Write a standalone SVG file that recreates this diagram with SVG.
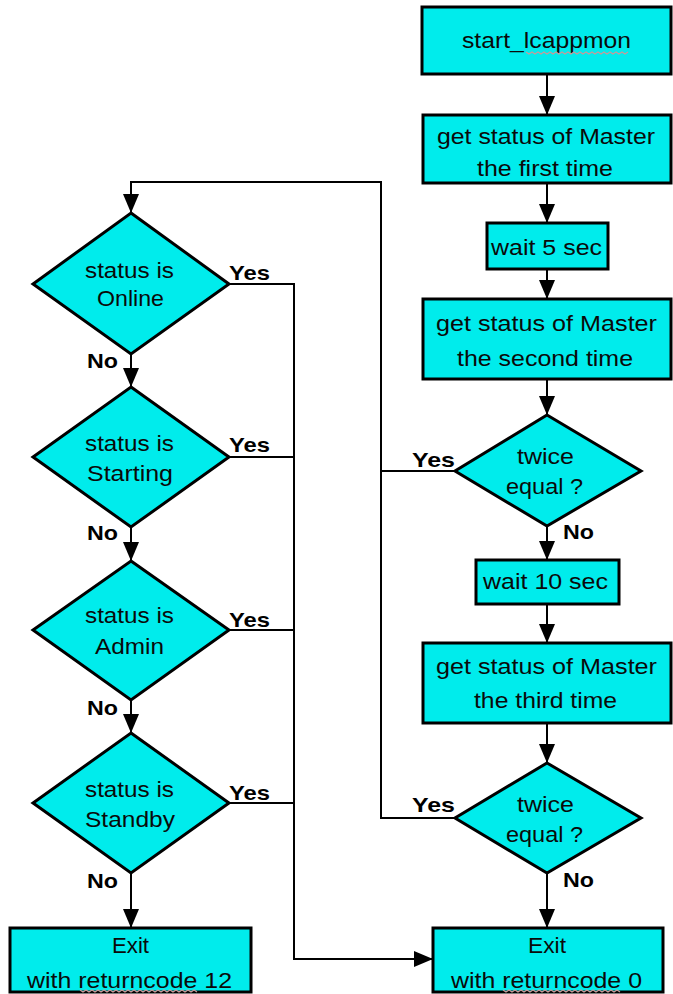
<svg xmlns="http://www.w3.org/2000/svg" width="673" height="994" viewBox="0 0 673 994">
  <style>
    .box { fill: #00ECEC; stroke: #000; stroke-width: 3; }
    .dia { fill: #00ECEC; stroke: #000; stroke-width: 3; stroke-linejoin: miter; }
    .t { font-family: "Liberation Sans", Arial, sans-serif; font-size: 22.5px; fill: #0a0a0a; text-anchor: middle; }
    .lbl { font-family: "Liberation Sans", Arial, sans-serif; font-size: 21px; font-weight: bold; fill: #000; }
    .line { fill: none; stroke: #000; stroke-width: 2; }
    .arr { marker-end: url(#head); }
    .squig { fill: none; stroke: #c89a9a; stroke-width: 1.2; }
  </style>
  <defs>
    <marker id="head" viewBox="0 0 19 16" refX="19" refY="8" markerWidth="19" markerHeight="16" markerUnits="userSpaceOnUse" orient="auto">
      <path d="M0,0 L19,8 L0,16 z" fill="#000"/>
    </marker>
  </defs>

  <rect width="673" height="994" fill="#fff"/>

  <!-- connectors -->
  <g id="connectors">
    <!-- right column -->
    <line class="line arr" x1="547" y1="74" x2="547" y2="115"/>
    <line class="line arr" x1="547" y1="183" x2="547" y2="223"/>
    <line class="line arr" x1="547" y1="269" x2="547" y2="299"/>
    <line class="line arr" x1="547" y1="379" x2="547" y2="415"/>
    <line class="line arr" x1="547" y1="526" x2="547" y2="560"/>
    <line class="line arr" x1="547" y1="604" x2="547" y2="643"/>
    <line class="line arr" x1="547" y1="723" x2="547" y2="763"/>
    <line class="line arr" x1="547" y1="873" x2="547" y2="928"/>
    <!-- loop back to the status checks -->
    <polyline class="line arr" points="455,818 381,818 381,182 131,182 131,213"/>
    <polyline class="line" points="455,471 381,471"/>
    <!-- left column -->
    <line class="line arr" x1="131" y1="354" x2="131" y2="387"/>
    <line class="line arr" x1="131" y1="527" x2="131" y2="561"/>
    <line class="line arr" x1="131" y1="700" x2="131" y2="733"/>
    <line class="line arr" x1="131" y1="873" x2="131" y2="928"/>
    <!-- yes branches to exit 0 -->
    <polyline class="line arr" points="229,284 294,284 294,959 433,959"/>
    <line class="line" x1="229" y1="457" x2="294" y2="457"/>
    <line class="line" x1="229" y1="630" x2="294" y2="630"/>
    <line class="line" x1="229" y1="803" x2="294" y2="803"/>
  </g>

  <!-- right column nodes -->
  <g id="start">
    <rect class="box" x="422" y="7" width="249" height="67"/>
    <text class="t" x="546.5" y="48" textLength="169" lengthAdjust="spacingAndGlyphs">start_lcappmon</text>
    <path class="squig" d="M526,52 l3,2 l3,-2 l3,2 l3,-2 l3,2 l3,-2 l3,2 l3,-2 l3,2 l3,-2 l3,2 l3,-2 l3,2 l3,-2 l3,2 l3,-2 l3,2 l3,-2 l3,2 l3,-2 l3,2 l3,-2 l3,2 l3,-2 l3,2 l3,-2 l3,2 l3,-2 l3,2 l3,-2 l3,2 l3,-2 l3,2 l3,-2"/>
  </g>

  <g id="status1">
    <rect class="box" x="423" y="115" width="248" height="68"/>
    <text class="t" x="546" y="144" textLength="218" lengthAdjust="spacingAndGlyphs">get status of Master</text>
    <text class="t" x="545" y="176" textLength="136" lengthAdjust="spacingAndGlyphs">the first time</text>
  </g>

  <g id="wait5">
    <rect class="box" x="487" y="223" width="121" height="46"/>
    <text class="t" x="546.5" y="255" textLength="111" lengthAdjust="spacingAndGlyphs">wait 5 sec</text>
  </g>

  <g id="status2">
    <rect class="box" x="423" y="299" width="248" height="80"/>
    <text class="t" x="546.5" y="331" textLength="221" lengthAdjust="spacingAndGlyphs">get status of Master</text>
    <text class="t" x="545" y="366" textLength="176" lengthAdjust="spacingAndGlyphs">the second time</text>
  </g>

  <g id="equal1">
    <polygon class="dia" points="547,415 641,471 547,526 455,471"/>
    <text class="t" x="545.5" y="464" textLength="57" lengthAdjust="spacingAndGlyphs">twice</text>
    <text class="t" x="544.5" y="494" textLength="77" lengthAdjust="spacingAndGlyphs">equal ?</text>
    <text class="lbl" x="412" y="467" textLength="43" lengthAdjust="spacingAndGlyphs">Yes</text>
    <text class="lbl" x="563" y="539" textLength="31" lengthAdjust="spacingAndGlyphs">No</text>
  </g>

  <g id="wait10">
    <rect class="box" x="476" y="560" width="143" height="44"/>
    <text class="t" x="545.5" y="589" textLength="125" lengthAdjust="spacingAndGlyphs">wait 10 sec</text>
  </g>

  <g id="status3">
    <rect class="box" x="423" y="643" width="248" height="80"/>
    <text class="t" x="546.5" y="674" textLength="221" lengthAdjust="spacingAndGlyphs">get status of Master</text>
    <text class="t" x="545.5" y="708" textLength="143" lengthAdjust="spacingAndGlyphs">the third time</text>
  </g>

  <g id="equal2">
    <polygon class="dia" points="547,763 641,818 547,873 455,818"/>
    <text class="t" x="545.5" y="812" textLength="57" lengthAdjust="spacingAndGlyphs">twice</text>
    <text class="t" x="544.5" y="842" textLength="77" lengthAdjust="spacingAndGlyphs">equal ?</text>
    <text class="lbl" x="412" y="812" textLength="43" lengthAdjust="spacingAndGlyphs">Yes</text>
    <text class="lbl" x="563" y="887" textLength="31" lengthAdjust="spacingAndGlyphs">No</text>
  </g>

  <g id="exit0">
    <rect class="box" x="433" y="928" width="230" height="64"/>
    <text class="t" x="547" y="953" textLength="38" lengthAdjust="spacingAndGlyphs">Exit</text>
    <text class="t" x="546.5" y="988" textLength="191" lengthAdjust="spacingAndGlyphs">with returncode 0</text>
    <path class="squig" d="M503,990 l3,2 l3,-2 l3,2 l3,-2 l3,2 l3,-2 l3,2 l3,-2 l3,2 l3,-2 l3,2 l3,-2 l3,2 l3,-2 l3,2 l3,-2 l3,2 l3,-2 l3,2 l3,-2 l3,2 l3,-2 l3,2 l3,-2 l3,2 l3,-2 l3,2 l3,-2 l3,2 l3,-2 l3,2 l3,-2 l3,2 l3,-2 l3,2 l3,-2 l3,2 l3,-2 l3,2"/>
  </g>

  <!-- left column nodes -->
  <g id="online">
    <polygon class="dia" points="131,213 229,284 131,354 33,284"/>
    <text class="t" x="129.5" y="278" textLength="89" lengthAdjust="spacingAndGlyphs">status is</text>
    <text class="t" x="130.5" y="306" textLength="67" lengthAdjust="spacingAndGlyphs">Online</text>
    <text class="lbl" x="229" y="280" textLength="41" lengthAdjust="spacingAndGlyphs">Yes</text>
    <text class="lbl" x="87" y="368" textLength="31" lengthAdjust="spacingAndGlyphs">No</text>
  </g>

  <g id="starting">
    <polygon class="dia" points="131,387 229,457 131,527 33,457"/>
    <text class="t" x="129.5" y="451" textLength="89" lengthAdjust="spacingAndGlyphs">status is</text>
    <text class="t" x="130" y="481" textLength="86" lengthAdjust="spacingAndGlyphs">Starting</text>
    <text class="lbl" x="229" y="452" textLength="41" lengthAdjust="spacingAndGlyphs">Yes</text>
    <text class="lbl" x="87" y="540" textLength="31" lengthAdjust="spacingAndGlyphs">No</text>
  </g>

  <g id="admin">
    <polygon class="dia" points="131,561 229,630 131,700 33,630"/>
    <text class="t" x="129.5" y="623" textLength="89" lengthAdjust="spacingAndGlyphs">status is</text>
    <text class="t" x="129.5" y="654" textLength="69" lengthAdjust="spacingAndGlyphs">Admin</text>
    <text class="lbl" x="229" y="627" textLength="41" lengthAdjust="spacingAndGlyphs">Yes</text>
    <text class="lbl" x="87" y="715" textLength="31" lengthAdjust="spacingAndGlyphs">No</text>
  </g>

  <g id="standby">
    <polygon class="dia" points="131,733 229,803 131,873 33,803"/>
    <text class="t" x="129.5" y="797" textLength="89" lengthAdjust="spacingAndGlyphs">status is</text>
    <text class="t" x="130" y="827" textLength="90" lengthAdjust="spacingAndGlyphs">Standby</text>
    <text class="lbl" x="229" y="800" textLength="41" lengthAdjust="spacingAndGlyphs">Yes</text>
    <text class="lbl" x="87" y="888" textLength="31" lengthAdjust="spacingAndGlyphs">No</text>
  </g>

  <g id="exit12">
    <rect class="box" x="10" y="928" width="241" height="64"/>
    <text class="t" x="130.5" y="953" textLength="37" lengthAdjust="spacingAndGlyphs">Exit</text>
    <text class="t" x="129.5" y="988" textLength="205" lengthAdjust="spacingAndGlyphs">with returncode 12</text>
    <path class="squig" d="M80,990 l3,2 l3,-2 l3,2 l3,-2 l3,2 l3,-2 l3,2 l3,-2 l3,2 l3,-2 l3,2 l3,-2 l3,2 l3,-2 l3,2 l3,-2 l3,2 l3,-2 l3,2 l3,-2 l3,2 l3,-2 l3,2 l3,-2 l3,2 l3,-2 l3,2 l3,-2 l3,2 l3,-2 l3,2 l3,-2 l3,2 l3,-2 l3,2 l3,-2 l3,2 l3,-2 l3,2"/>
  </g>
</svg>
